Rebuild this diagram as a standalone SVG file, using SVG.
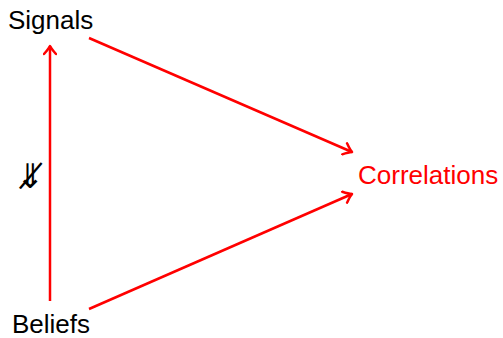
<svg xmlns="http://www.w3.org/2000/svg" width="503" height="338" viewBox="0 0 503 338">
<style>
.lbl{font-family:"Liberation Sans",Arial,sans-serif;font-size:26px;fill:#000}
.red{fill:#ff0000}
.edge{stroke:#ff0000;stroke-width:2.5;fill:none}
.head{stroke:#ff0000;stroke-width:2.5;fill:none;stroke-linecap:round;stroke-linejoin:round}
</style>
<defs>
<marker id="arr" viewBox="-10 -7 12 14" markerWidth="12" markerHeight="14" refX="0" refY="0" orient="auto" markerUnits="userSpaceOnUse">
<path d="M-8,-6 Q-3,-1.5 0,0 Q-3,1.5 -8,6" class="head"/>
</marker>
</defs>
<g id="connectors">
<line class="edge" x1="50" y1="301" x2="50" y2="46" marker-end="url(#arr)"/>
<line class="edge" x1="89" y1="38" x2="352" y2="152" marker-end="url(#arr)"/>
<line class="edge" x1="89" y1="309" x2="352" y2="194" marker-end="url(#arr)"/>
</g>
<g id="signals"><text class="lbl" x="8" y="29">Signals</text></g>
<g id="correlations"><text class="lbl red" x="358" y="184">Correlations</text></g>
<g id="beliefs"><text class="lbl" x="12" y="333">Beliefs</text></g>
<g id="notimplies"><text x="30" y="188" text-anchor="middle" style="font-family:'DejaVu Sans',sans-serif;font-size:34px;fill:#000">⇓̸</text></g>
</svg>
